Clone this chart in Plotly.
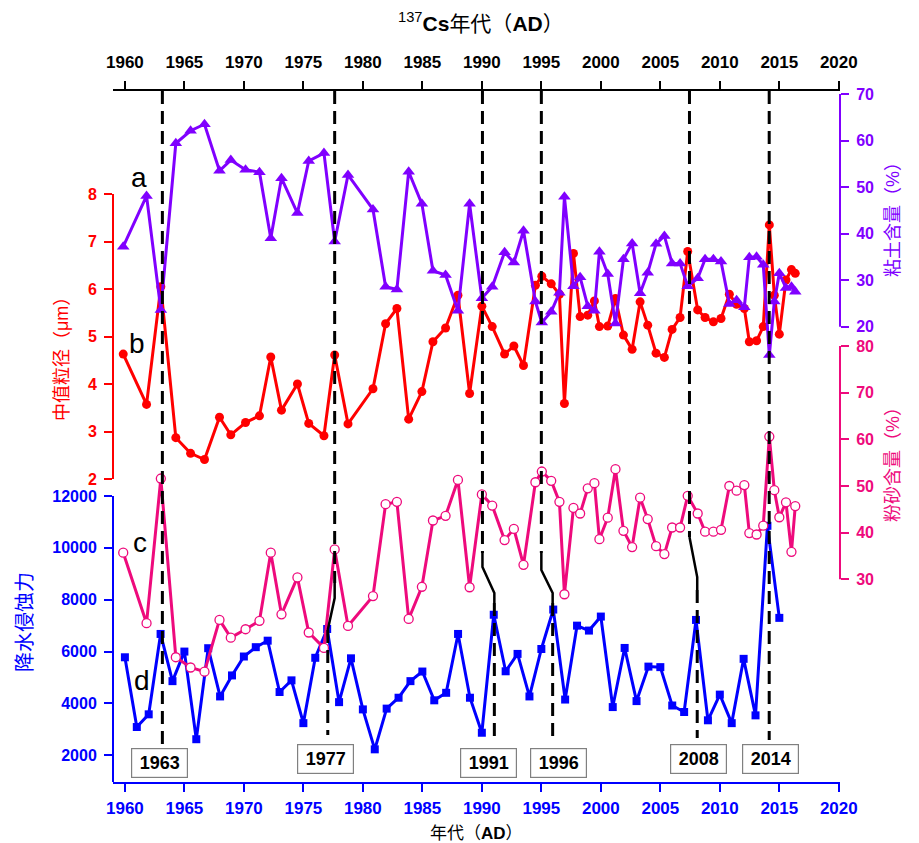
import plotly.graph_objects as go

# Sediment core samples dated by 137Cs (decimal years, top axis)
cs_dates = [1959.86, 1961.82, 1963.02, 1964.28, 1965.52, 1966.69, 1967.95, 1968.90, 1970.14, 1971.31,
            1972.26, 1973.16, 1974.50, 1975.45, 1976.73, 1977.63, 1978.75, 1980.85, 1981.91, 1982.86,
            1983.85, 1984.96, 1985.89, 1986.95, 1987.99, 1988.97, 1990.00, 1990.87, 1991.91, 1992.69,
            1993.50, 1994.50, 1995.04, 1995.83, 1996.52, 1996.94, 1997.70, 1998.26, 1998.90, 1999.46,
            1999.88, 2000.58, 2001.23, 2001.90, 2002.63, 2003.30, 2003.94, 2004.64, 2005.34, 2005.99,
            2006.66, 2007.30, 2008.14, 2008.76, 2009.46, 2010.10, 2010.80, 2011.41, 2012.06, 2012.48,
            2013.09, 2013.65, 2014.16, 2014.58, 2015.00, 2015.56, 2016.02, 2016.34]

# a: clay content (%)
clay = [37.2, 48.1, 23.6, 59.4, 62.1, 63.5, 53.5, 55.8, 53.7, 53.2,
        39.0, 51.9, 44.4, 55.6, 57.3, 38.3, 52.6, 45.2, 28.6, 28.0,
        53.3, 46.4, 32.0, 31.1, 23.4, 46.4, 26.1, 28.6, 36.0, 33.8,
        40.6, 25.4, 20.9, 23.2, 27.3, 47.9, 28.7, 30.6, 24.4, 23.4,
        36.1, 31.3, 20.7, 34.5, 37.9, 27.2, 31.6, 37.8, 39.5, 33.6,
        33.6, 28.7, 30.4, 34.5, 34.5, 34.0, 24.9, 25.7, 24.2, 34.9,
        35.0, 33.3, 13.9, 25.4, 31.5, 28.3, 28.6, 27.5]

# b: median grain size (μm)
median_size = [4.63, 3.57, 6.05, 2.87, 2.54, 2.41, 3.30, 2.93, 3.19, 3.33,
               4.57, 3.45, 4.00, 3.17, 2.91, 4.61, 3.16, 3.90, 5.27, 5.59,
               3.26, 3.84, 4.89, 5.18, 5.87, 3.80, 5.64, 5.21, 4.63, 4.80,
               4.39, 6.08, 6.27, 6.11, 5.89, 3.59, 6.75, 5.42, 5.45, 5.75,
               5.21, 5.22, 5.80, 5.03, 4.73, 5.73, 5.24, 4.65, 4.56, 5.15,
               5.40, 6.79, 5.56, 5.40, 5.31, 5.38, 5.89, 5.68, 5.59, 4.89,
               4.91, 5.21, 7.35, 5.87, 5.05, 6.19, 6.41, 6.33]

# c: silt content (%)
silt = [35.7, 20.6, 51.6, 13.3, 11.1, 10.2, 21.3, 17.5, 19.3, 21.1,
        35.7, 22.5, 30.4, 18.6, 15.3, 36.4, 20.0, 26.4, 46.1, 46.6,
        21.5, 28.4, 42.6, 43.6, 51.3, 28.3, 48.2, 45.8, 38.4, 40.8,
        33.1, 50.8, 53.1, 51.1, 46.6, 26.8, 45.3, 44.1, 49.5, 50.6,
        38.6, 43.2, 53.6, 40.4, 36.9, 47.5, 42.9, 37.1, 35.4, 41.1,
        41.1, 47.9, 44.1, 40.2, 40.2, 40.6, 50.0, 49.0, 50.2, 39.9,
        39.6, 41.5, 60.6, 49.1, 43.3, 46.5, 35.9, 45.7]

# d: rainfall erosivity, calendar years
years = list(range(1960, 2016))
erosivity = [5780, 3090, 3580, 6680, 4860, 6000, 2620, 6130, 4270, 5080,
             5810, 6170, 6420, 4440, 4890, 3240, 5760, 6870, 4050, 5740,
             3770, 2230, 3800, 4220, 4860, 5230, 4120, 4410, 6680, 4220,
             2870, 7420, 5240, 5910, 4270, 6100, 7620, 4150, 7000, 6810,
             7350, 3860, 6140, 4090, 5420, 5400, 3920, 3670, 7220, 3350,
             4340, 3240, 5720, 3540, 10850, 7300]

# Marker years linking 137Cs dates (top) to calendar years (bottom)
event_labels = ["1963", "1977", "1991", "1996", "2008", "2014"]
event_cs = [1963.15, 1977.63, 1990.05, 1995.00, 2007.45, 2014.15]
event_cal = [1963.15, 1977.05, 1991.05, 1995.95, 2008.10, 2014.15]

x_ticks = list(range(1960, 2021, 5))
erosivity_ticks = [2000, 4000, 6000, 8000, 10000, 12000]

RED = "#FF0000"
BLUE = "#0000FF"
PURPLE = "#8000FF"
PINK = "#EE0A7C"
FONT = "Liberation Sans, Arial, Noto Sans CJK SC, sans-serif"

X_RANGE = [1959.0, 2020.1]

fig = go.Figure()

fig.add_trace(go.Scatter(
    x=years, y=erosivity, xaxis="x", yaxis="y2", mode="lines+markers",
    line=dict(color=BLUE, width=3),
    marker=dict(symbol="square", size=8, color=BLUE),
    name="降水侵蚀力"))

# silt is placed on the top (137Cs) axis, which shares the bottom axis scale
fig.add_trace(go.Scatter(
    x=cs_dates, y=silt, xaxis="x2", yaxis="y4", mode="lines+markers",
    line=dict(color=PINK, width=3),
    marker=dict(symbol="circle", size=9, color="white", line=dict(color=PINK, width=1.3)),
    name="粉砂含量"))

fig.add_trace(go.Scatter(
    x=cs_dates, y=median_size, xaxis="x", yaxis="y", mode="lines+markers",
    line=dict(color=RED, width=3),
    marker=dict(symbol="circle", size=9, color=RED),
    name="中值粒径"))

fig.add_trace(go.Scatter(
    x=cs_dates, y=clay, xaxis="x", yaxis="y3", mode="lines+markers",
    line=dict(color=PURPLE, width=3),
    marker=dict(symbol="triangle-up", size=11, color=PURPLE),
    name="粘土含量"))


def px_y(py):
    # vertical position in paper units for a plot spanning y=91..782
    return (782 - py) / 691.0


def px_x(px):
    return (px - 113) / 727.0


shapes = []
dash_style = dict(color="black", width=3, dash="13px,7px")
solid_style = dict(color="black", width=2.5)

# (upper dashed end, kink path points, lower dashed start, lower end) in pixel rows
kinks = [
    None,
    (583, [(0, 583), (0, 598), (1, 630)], 630, 735),
    (553, [(0, 553), (0, 567), (1, 593), (1, 603)], 603, 741),
    (553, [(0, 553), (0, 570), (1, 593), (1, 603)], 603, 741),
    (537, [(0, 537), (1, 577), (1, 590)], 590, 738),
    None,
]
straight_end = [745, None, None, None, None, 740]

for i in range(len(event_labels)):
    xs = (event_cs[i], event_cal[i])
    k = kinks[i]
    if k is None:
        shapes.append(dict(type="line", xref="x", yref="paper", x0=xs[0], x1=xs[0],
                           y0=1.0, y1=px_y(straight_end[i]), line=dash_style))
        continue
    top_end, pts, low_start, low_end = k
    shapes.append(dict(type="line", xref="x", yref="paper", x0=xs[0], x1=xs[0],
                       y0=1.0, y1=px_y(top_end), line=dash_style))
    path = " ".join(("M" if j == 0 else "L") + f" {xs[w]},{px_y(p)}" for j, (w, p) in enumerate(pts))
    shapes.append(dict(type="path", xref="x", yref="paper", path=path, line=solid_style))
    shapes.append(dict(type="line", xref="x", yref="paper", x0=xs[1], x1=xs[1],
                       y0=px_y(low_start), y1=px_y(low_end), line=dash_style))

# Axis spines covering only the labelled span of each scale
shapes += [
    dict(type="line", xref="paper", yref="y", x0=0, x1=0, y0=2, y1=8, line=dict(color=RED, width=2)),
    dict(type="line", xref="paper", yref="y2", x0=0, x1=0, y0=970, y1=12000, line=dict(color=BLUE, width=2)),
    dict(type="line", xref="paper", yref="y3", x0=1, x1=1, y0=20, y1=70, line=dict(color=PURPLE, width=2)),
    dict(type="line", xref="paper", yref="y4", x0=1, x1=1, y0=30, y1=80, line=dict(color=PINK, width=2)),
]

annotations = []
label_x = [1962.9, 1976.9, 1990.6, 1996.4, 2008.2, 2014.3]
label_py = [763, 759, 762.5, 762.5, 759, 759]
for lab, lx, py in zip(event_labels, label_x, label_py):
    annotations.append(dict(
        x=lx, y=px_y(py), xref="x", yref="paper", text=f"<b>{lab}</b>", showarrow=False,
        font=dict(family=FONT, size=18, color="black"), bgcolor="white",
        bordercolor="#808080", borderwidth=1.2, width=53, height=26,
        xanchor="center", yanchor="middle"))

for letter, lx, py in [("a", 1961.2, 177), ("b", 1961.0, 343), ("c", 1961.3, 542), ("d", 1961.4, 680)]:
    annotations.append(dict(x=lx, y=px_y(py), xref="x", yref="paper", text=letter, showarrow=False,
                            font=dict(family=FONT, size=28, color="black"),
                            xanchor="center", yanchor="middle"))

titles = [
    ("中值粒径（μm）", 62, 355, RED, 18),
    ("降水侵蚀力", 25, 622, BLUE, 20),
    ("粘土含量（%）", 893, 215, PURPLE, 18),
    ("粉砂含量（%）", 893, 460, PINK, 18),
]
for text, px, py, col, sz in titles:
    annotations.append(dict(x=px_x(px), y=px_y(py), xref="paper", yref="paper", text=text,
                            showarrow=False, textangle=-90,
                            font=dict(family=FONT, size=sz, color=col),
                            xanchor="center", yanchor="middle"))

annotations.append(dict(x=px_x(481), y=px_y(22), xref="paper", yref="paper",
                        text="<sup>137</sup><b>Cs</b>年代（<b>AD</b>）", showarrow=False,
                        font=dict(family=FONT, size=21, color="black"),
                        xanchor="center", yanchor="middle"))
annotations.append(dict(x=px_x(476), y=px_y(833), xref="paper", yref="paper",
                        text="年代（<b>AD</b>）", showarrow=False,
                        font=dict(family=FONT, size=17, color="black"),
                        xanchor="center", yanchor="middle"))


def tick_font(c, size=17):
    return dict(family=FONT, size=size, color=c, weight="bold")


fig.update_layout(
    width=919, height=843,
    margin=dict(l=113, r=79, t=91, b=61, autoexpand=False),
    paper_bgcolor="white", plot_bgcolor="white",
    showlegend=False,
    font=dict(family=FONT),
    xaxis=dict(range=X_RANGE, tickvals=x_ticks, showgrid=False, zeroline=False,
               showline=True, linecolor=BLUE, linewidth=2,
               ticks="outside", ticklen=8, tickwidth=2, tickcolor=BLUE,
               tickfont=tick_font(BLUE), ticklabelstandoff=2),
    xaxis2=dict(range=X_RANGE, tickvals=x_ticks, overlaying="x", side="top", anchor="y",
                showgrid=False, zeroline=False,
                showline=True, linecolor="black", linewidth=2,
                ticks="outside", ticklen=8, tickwidth=2, tickcolor="black",
                tickfont=tick_font("black"), ticklabelstandoff=6),
    yaxis=dict(range=[-4.38, 10.17], tickvals=[2, 3, 4, 5, 6, 7, 8], side="left", anchor="x",
               showgrid=False, zeroline=False, showline=False,
               ticks="outside", ticklen=8, tickwidth=2, tickcolor=RED,
               tickfont=tick_font(RED, 16), ticklabelstandoff=4),
    yaxis2=dict(range=[970, 27620], tickvals=erosivity_ticks,
                ticktext=[str(v) for v in erosivity_ticks],
                overlaying="y", side="left", anchor="x",
                showgrid=False, zeroline=False, showline=False,
                ticks="outside", ticklen=8, tickwidth=2, tickcolor=BLUE,
                tickfont=tick_font(BLUE, 16), ticklabelstandoff=4),
    yaxis3=dict(range=[-77.83, 70.64], tickvals=[20, 30, 40, 50, 60, 70],
                overlaying="y", side="right", anchor="x",
                showgrid=False, zeroline=False, showline=False,
                ticks="outside", ticklen=8, tickwidth=2, tickcolor=PURPLE,
                tickfont=tick_font(PURPLE, 16), ticklabelstandoff=4),
    yaxis4=dict(range=[-13.44, 134.65], tickvals=[30, 40, 50, 60, 70, 80],
                overlaying="y", side="right", anchor="x",
                showgrid=False, zeroline=False, showline=False,
                ticks="outside", ticklen=8, tickwidth=2, tickcolor=PINK,
                tickfont=tick_font(PINK, 16), ticklabelstandoff=4),
    shapes=shapes,
    annotations=annotations,
)

fig.write_html("out.html")
